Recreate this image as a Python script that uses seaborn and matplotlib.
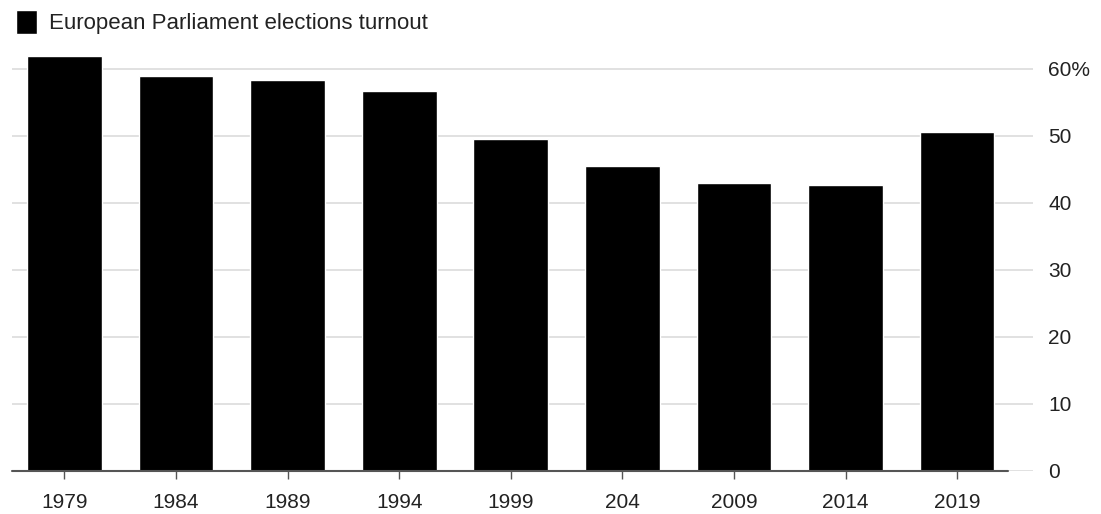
#!/usr/bin/env python3

import pandas as pd
import matplotlib
matplotlib.use("Agg")
import matplotlib.pyplot as plt
import seaborn as sns

# turnout in percent, labels as printed on the chart (incl. the "204" typo)
YEARS   = ["1979", "1984", "1989", "1994", "1999", "204", "2009", "2014", "2019"]
TURNOUT = [61.99, 58.98, 58.41, 56.67, 49.51, 45.47, 42.97, 42.61, 50.66]
SERIES  = "European Parliament elections turnout"
YTICKS  = [0, 10, 20, 30, 40, 50, 60]
YLABELS = ["0", "10", "20", "30", "40", "50", "60%"]


def plot_turnout(df):
    sns.set_style("white")
    plt.rcParams['font.family'] = ['Liberation Sans', 'DejaVu Sans']

    fig = plt.figure(figsize=(11.01, 5.14), dpi=100)
    ax = fig.add_axes([0.0109, 0.0837, 0.9273, 0.8473])

    sns.barplot(data=df, x="year", y="turnout", color="black", saturation=1,
                width=0.67, label=SERIES, ax=ax, zorder=3)

    ax.set_xlim(-0.47, 8.68)
    ax.set_ylim(0, 65)

    ax.set_yticks(YTICKS)
    ax.set_yticklabels(YLABELS)
    ax.yaxis.tick_right()
    ax.grid(axis="y", color="#dcdcdc", linewidth=1.2, zorder=0)
    ax.tick_params(axis="y", length=0, pad=11, labelsize=15, labelcolor="#222222")
    ax.tick_params(axis="x", length=6, width=1, color="#555555", direction="out",
                   pad=10, labelsize=15, labelcolor="#222222", bottom=True)

    for s in ax.spines.values():
        s.set_visible(False)
    # baseline stops short of the right edge like in the original
    ax.axhline(0, xmin=0, xmax=(8.457 + 0.47) / (8.68 + 0.47), color="#555555",
               linewidth=1.5, zorder=4, clip_on=False)

    ax.set_xlabel("")
    ax.set_ylabel("")

    leg = ax.legend(loc="upper left", bbox_to_anchor=(0.0025, 1.006),
                    bbox_transform=fig.transFigure, frameon=False, fontsize=16,
                    handlelength=0.95, handleheight=1.25, handletextpad=0.55,
                    borderaxespad=0.2)
    for t in leg.get_texts():
        t.set_color("#222222")

    fig.savefig("out.png", dpi=100)


def main():
    df = pd.DataFrame({"year": YEARS, "turnout": TURNOUT})
    plot_turnout(df)


if __name__ == '__main__':
    main()
